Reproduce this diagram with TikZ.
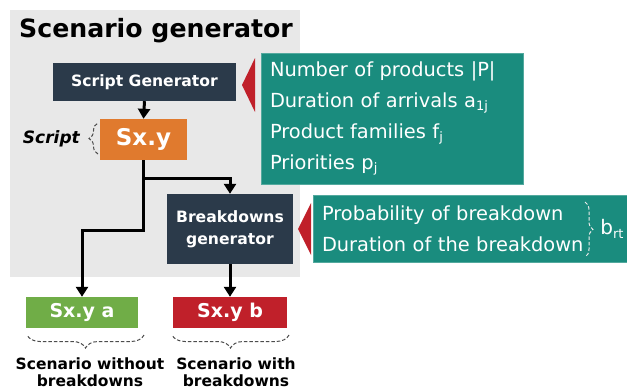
\documentclass[tikz,border=0pt]{standalone}
\usepackage{fontspec}
\setmainfont{DejaVu Sans}
\usetikzlibrary{arrows.meta,decorations.pathreplacing}
\definecolor{navy}{RGB}{43,58,74}
\definecolor{sgorange}{RGB}{224,122,46}
\definecolor{sggreen}{RGB}{112,173,71}
\definecolor{sgred}{RGB}{192,32,42}
\definecolor{sgteal}{RGB}{26,140,126}
\definecolor{sggray}{RGB}{232,232,232}
\newcommand\lowidx[1]{\raisebox{-0.35ex}{\fontsize{13}{13}\selectfont #1}}
\begin{document}
\begin{tikzpicture}[x=1pt,y=-1pt,
    darkbox/.style={fill=navy,text=white,font=\bfseries\fontsize{15.6}{22}\selectfont,align=center,inner sep=0pt},
    outbox/.style={text=white,font=\bfseries\fontsize{19}{21}\selectfont,inner sep=0pt,minimum height=31pt},
    infobox/.style={fill=sgteal,draw=sgteal!75!white,line width=0.6pt,text=white,align=left,
      font=\fontsize{19.4}{31}\selectfont,inner xsep=9pt,inner ysep=0pt},
    flow/.style={line width=3pt,-{Triangle[length=10pt,width=12pt]}},
    dbrace/.style={black!70,dash pattern=on 3.5pt off 2pt,line width=1pt,decoration={brace,amplitude=13pt},decorate},
    caption/.style={font=\bfseries\fontsize{15.5}{16.5}\selectfont,align=center,inner sep=0pt}
  ]
  \useasboundingbox (0,0) rectangle (627,391);
  \fill[sggray] (10,10) rectangle (300,277);
  \node[anchor=base west,inner sep=0pt,font=\bfseries\fontsize{25.2}{30}\selectfont] (title) at (19,37) {Scenario generator};

  % generators and scripts
  \node[darkbox,minimum width=183pt,minimum height=38pt] (sg) at (144.5,82) {Script Generator};
  \node[fill=sgorange,text=white,font=\bfseries\fontsize{23}{26}\selectfont,inner sep=0pt,
    minimum width=87pt,minimum height=41pt] (sxy) at (143.5,139.5) {Sx.y};
  \node[anchor=east,inner sep=0pt,font=\bfseries\itshape\fontsize{17}{20}\selectfont] (script) at (80,139) {Script};
  \node[darkbox,minimum width=126pt,minimum height=70pt] (bg) at (230,229) {Breakdowns\\generator};
  \node[outbox,fill=sggreen,minimum width=112pt] (sxa) at (82,312.5) {Sx.y a};
  \node[outbox,fill=sgred,minimum width=114pt] (sxb) at (230,312.5) {Sx.y b};

  % inputs
  \node[infobox,minimum width=262pt,minimum height=131pt,text width=244pt] (params) at (392,118.5)
    {Number of products |P|\\Duration of arrivals a\lowidx{1j}\\Product families f\lowidx{j}\\Priorities p\lowidx{j}};
  \node[infobox,minimum width=316pt,minimum height=67pt,text width=298pt] (bparams) at (471,228.5)
    {Probability of breakdown\\Duration of the breakdown};
  \fill[sgred] (242,85) -- (255,58) -- (255,112) -- cycle;
  \fill[sgred] (298,229) -- (311,203) -- (311,255) -- cycle;

  % connectors
  \coordinate (split) at (144,178);
  \draw[flow] (sg.south) -- (sxy.north);
  \draw[flow] (sxy.south) -- ++(0,70) -| (sxa.north);
  \draw[flow] (split) -| (bg.north);
  \draw[flow] (bg.south) -- (sxb.north);

  % braces
  \draw[dbrace,decoration={amplitude=9pt}] (98,154) -- (98,123);
  \draw[dbrace] (144,335) -- (27,335);
  \draw[dbrace] (289,335) -- (172,335);
  \draw[dbrace,white!85!gray,decoration={amplitude=8pt}] (585,202) -- (585,257);
  \node[text=white,font=\fontsize{20}{22}\selectfont,inner sep=0pt] (brt) at (612,229) {b\lowidx{rt}};

  \node[caption,anchor=north] (capa) at (90,358) {Scenario without\\breakdowns};
  \node[caption,anchor=north] (capb) at (236,358) {Scenario with\\breakdowns};
\end{tikzpicture}
\end{document}
